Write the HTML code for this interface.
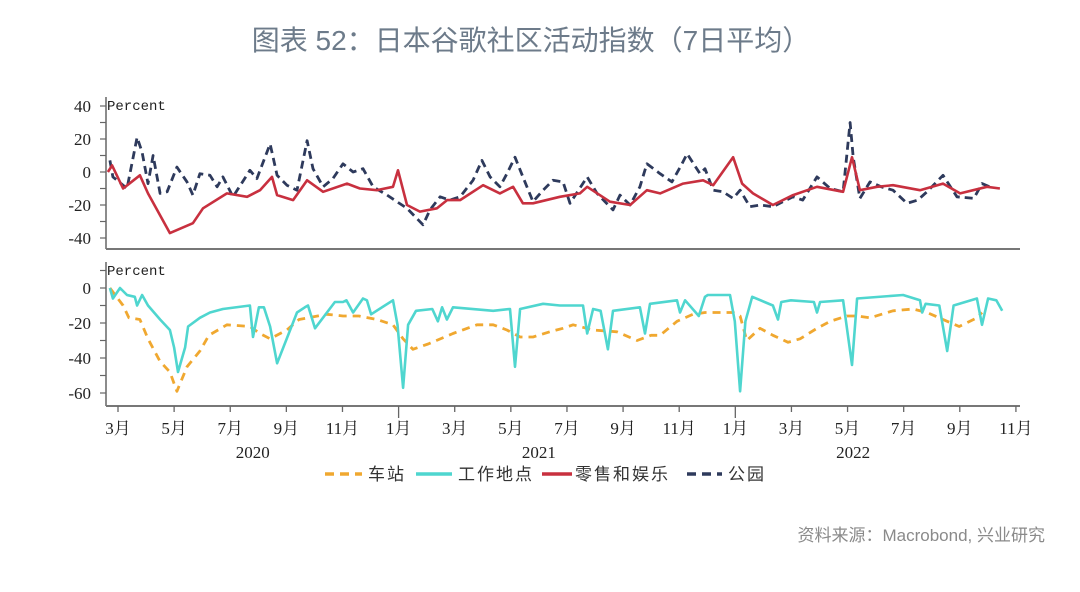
<!DOCTYPE html>
<html><head><meta charset="utf-8">
<style>
html,body{margin:0;padding:0;background:#fff;width:1080px;height:592px;overflow:hidden}
svg{display:block}
.t{font-family:"Liberation Sans","Noto Sans CJK SC",sans-serif}
.s{font-family:"Liberation Serif","Noto Serif CJK SC",serif}
.m{font-family:"Liberation Mono","Noto Sans CJK SC",monospace}
.lg{letter-spacing:2px}
</style></head>
<body>
<svg id="chart" width="1080" height="592" viewBox="0 0 1080 592" xmlns="http://www.w3.org/2000/svg">
<text x="531" y="50" text-anchor="middle" class="t" font-size="28" fill="#6d7b8a">图表 52：日本谷歌社区活动指数（7日平均）</text>
<text x="1045" y="541" text-anchor="end" class="t" font-size="17" fill="#8a8a8a">资料来源：Macrobond, 兴业研究</text>
<g id="gtop"></g>
<g id="gbot"></g>
<g id="legend">
  <line x1="325" y1="474" x2="362" y2="474" stroke="#f0a830" stroke-width="3.5" stroke-dasharray="9,6"/>
  <text x="368" y="480" class="t lg" font-size="17" fill="#333">车站</text>
  <line x1="416" y1="474" x2="452" y2="474" stroke="#4fd6cf" stroke-width="3.5"/>
  <text x="458" y="480" class="t lg" font-size="17" fill="#333">工作地点</text>
  <line x1="542" y1="474" x2="572" y2="474" stroke="#c8303f" stroke-width="3.5"/>
  <text x="575" y="480" class="t lg" font-size="17" fill="#333">零售和娱乐</text>
  <line x1="687" y1="474" x2="722" y2="474" stroke="#2e3a5c" stroke-width="3.5" stroke-dasharray="9,6"/>
  <text x="728" y="480" class="t lg" font-size="17" fill="#333">公园</text>
</g>
</svg>
<script>
// time = months since 2020-03-01
const retailT=[-0.36,-0.21,0.18,0.78,1.07,1.85,2.67,3.03,3.88,4.60,5.06,5.49,5.67,6.24,6.74,7.31,8.16,8.62,9.23,9.80,9.98,10.30,10.76,11.37,11.73,12.19,13.01,13.61,14.08,14.43,14.79,15.75,16.46,16.72,17.53,18.25,18.85,19.32,20.14,20.85,21.21,21.92,22.24,22.63,23.34,24.06,24.91,25.84,26.16,26.44,27.05,27.62,28.58,29.40,30.01,30.97,31.43];
const retailV=[0,4,-10,-2,-13,-37,-31,-22,-13,-15,-11,-3,-14,-17,-5,-12,-7,-10,-11,-9,1,-20,-24,-22,-17,-17,-8,-13,-9,-19,-19,-15,-13,-9,-18,-20,-11,-13,-7,-5,-8,9,-7,-13,-20,-14,-9,-12,9,-11,-9,-8,-11,-7,-13,-9,-10];
const parksT=[-0.29,-0.18,0.32,0.68,0.86,1.07,1.25,1.50,1.75,2.10,2.46,2.67,2.92,3.28,3.53,3.74,4.10,4.70,4.95,5.42,5.67,6.02,6.38,6.74,6.95,7.31,7.66,8.02,8.38,8.73,9.09,9.59,9.94,10.30,10.87,11.12,11.48,11.83,12.19,12.65,12.97,13.26,13.61,13.86,14.15,14.43,14.79,15.15,15.50,15.86,16.11,16.72,17.07,17.64,17.89,18.25,18.60,18.85,19.32,19.74,20.10,20.28,20.74,20.92,21.21,21.56,21.92,22.17,22.52,22.88,23.34,23.70,24.06,24.40,24.91,25.38,25.84,26.09,26.20,26.44,26.80,27.20,27.62,28.12,28.50,28.83,29.40,29.90,30.50,30.79,31.20];
const parksV=[7,-3,-10,21,12,-7,10,-13,-12,3,-6,-14,-1,-2,-9,-3,-15,1,-4,17,-2,-8,-11,19,2,-9,-4,5,0,2,-9,-14,-18,-22,-32,-23,-15,-17,-15,-5,7,-3,-9,-1,9,-3,-18,-11,-5,-6,-19,-3,-13,-23,-14,-20,-9,5,-1,-6,5,11,-1,2,-11,-12,-16,-11,-21,-20,-21,-18,-15,-17,-3,-10,-12,30,9,-16,-6,-9,-11,-19,-17,-12,-2,-15,-16,-7,-10];
const workT=[-0.29,-0.18,0.07,0.32,0.60,0.68,0.86,1.07,1.50,1.85,2.00,2.14,2.39,2.50,2.92,3.28,3.74,4.70,4.81,5.02,5.20,5.42,5.67,6.38,6.66,6.77,7.02,7.73,8.02,8.14,8.38,8.73,8.87,9.02,9.80,9.96,10.16,10.34,10.62,11.20,11.40,11.55,11.72,11.94,13.37,13.97,14.15,14.33,15.15,15.75,16.57,16.72,16.93,17.20,17.46,17.64,18.60,18.78,18.96,19.92,20.03,20.21,20.70,20.92,21.02,21.81,21.98,22.17,22.36,22.60,23.34,23.52,23.64,23.98,24.80,24.91,25.02,25.84,26.16,26.34,27.98,28.58,28.66,28.78,29.27,29.55,29.78,30.61,30.79,31.01,31.30,31.51];
const workV=[0,-6,0,-4,-5,-10,-4,-10,-18,-24,-34,-48,-34,-22,-17,-14,-12,-10,-28,-11,-11,-22,-43,-14,-11,-10,-23,-8,-8,-7,-14,-6,-7,-15,-7,-21,-57,-21,-13,-12,-19,-11,-18,-11,-13,-12,-45,-12,-9,-10,-10,-26,-12,-13,-35,-13,-11,-26,-9,-7,-14,-7,-16,-5,-4,-4,-19,-59,-19,-5,-10,-18,-8,-7,-8,-14,-8,-7,-44,-6,-4,-7,-14,-9,-10,-36,-10,-6,-21,-6,-7,-13];
const statT=[-0.29,0.18,0.39,0.78,1.07,1.50,1.85,2.10,2.46,2.92,3.24,3.88,4.70,5.06,5.42,6.02,6.45,7.45,8.02,8.59,9.23,9.80,10.16,10.51,11.05,11.94,12.79,13.37,13.86,14.33,14.79,15.39,15.86,16.22,16.93,17.78,18.50,19.00,19.32,19.92,20.49,20.92,21.46,21.92,22.17,22.41,22.88,23.34,23.88,24.31,24.91,25.38,25.98,26.34,26.80,27.62,28.33,28.83,29.55,29.98,30.61,30.79];
const statV=[0,-10,-17,-18,-29,-42,-48,-59,-45,-36,-27,-21,-22,-26,-29,-24,-18,-15,-16,-16,-18,-21,-29,-35,-32,-26,-21,-21,-24,-28,-28,-25,-23,-21,-24,-25,-30,-27,-27,-19,-15,-14,-14,-14,-16,-30,-23,-27,-31,-29,-23,-19,-16,-16,-17,-13,-12,-14,-19,-22,-17,-14];
const yTopTicks=[40,20,0,-20,-40];
const yBotTicks=[0,-20,-40,-60];
const monthLabels=["3月","5月","7月","9月","11月","1月","3月","5月","7月","9月","11月","1月","3月","5月","7月","9月","11月"];
const monthIdx=[0,2,4,6,8,10,12,14,16,18,20,22,24,26,28,30,32];
const years=["2020","2021","2022"];
const yearCenterIdx=[4.8,15,26.2];

const NS="http://www.w3.org/2000/svg";
const X0=118, PXM=28.06, AXL=106, AXR=1020;
const xs=t=>X0+t*PXM;
const yTop=v=>172-v*1.65;
const yBot=v=>288-v*1.75;
function mk(tag,attrs,parent){const e=document.createElementNS(NS,tag);for(const k in attrs)e.setAttribute(k,attrs[k]);parent.appendChild(e);return e;}
const gTop=document.getElementById('gtop'), gBot=document.getElementById('gbot');

function axes(g,ys,ticks,minorFrom,minorTo,yTopPx,yBottomPx,name){
  const a=mk('line',{x1:AXL,y1:yTopPx,x2:AXL,y2:yBottomPx,stroke:'#666','stroke-width':1.5},g);
  
  
  for(let v=minorFrom;v>=minorTo;v-=10){
    const tk=mk('line',{x1:AXL-6,y1:ys(v),x2:AXL,y2:ys(v),stroke:'#666','stroke-width':1.2},g);
    
    
  }
  ticks.forEach(v=>{
    const t=mk('text',{x:91,y:ys(v)+6,'text-anchor':'end','font-size':17,fill:'#222',class:'s'},g);
    t.textContent=v;
    
    
  });
  const p=mk('text',{x:107,y:yTopPx+13,'font-size':14,fill:'#222',class:'m'},g);
  p.textContent='Percent';
  
  
  const xa=mk('line',{x1:AXL,y1:yBottomPx,x2:AXR,y2:yBottomPx,stroke:'#777','stroke-width':2},g);
  
  
}
axes(gTop,yTop,yTopTicks,40,-40,97,249,'top');
axes(gBot,yBot,yBotTicks,10,-60,262,406,'bottom');

function series(g,T,V,ys,color,dash,name){
  const d=T.map((t,i)=>(i?'L':'M')+xs(t).toFixed(1)+','+ys(V[i]).toFixed(1)).join(' ');
  const p=mk('path',{d:d,fill:'none',stroke:color,'stroke-width':dash?2.8:2.6,'stroke-linejoin':'round'},g);
  if(dash)p.setAttribute('stroke-dasharray',dash);
  
  
}
series(gTop,parksT,parksV,yTop,'#2e3a5c','8,5','parks-line');
series(gTop,retailT,retailV,yTop,'#c8303f',null,'retail-line');
series(gBot,statT,statV,yBot,'#f0a830','8,6','station-line');
series(gBot,workT,workV,yBot,'#4fd6cf',null,'workplace-line');

monthIdx.forEach((m,i)=>{
  const x=xs(m);
  const big=monthLabels[i]==='1月';
  const tk=mk('line',{x1:x,y1:406,x2:x,y2:big?418:412,stroke:'#666','stroke-width':1.3},gBot);
  
  
  const t=mk('text',{x:x,y:434,'text-anchor':'middle','font-size':17,fill:'#222',class:'s'},gBot);
  t.textContent=monthLabels[i];
  
  
});
years.forEach((y,i)=>{
  const t=mk('text',{x:xs(yearCenterIdx[i]),y:458,'text-anchor':'middle','font-size':17,fill:'#222',class:'s'},gBot);
  t.textContent=y;
  
  
});
</script>
</body></html>
